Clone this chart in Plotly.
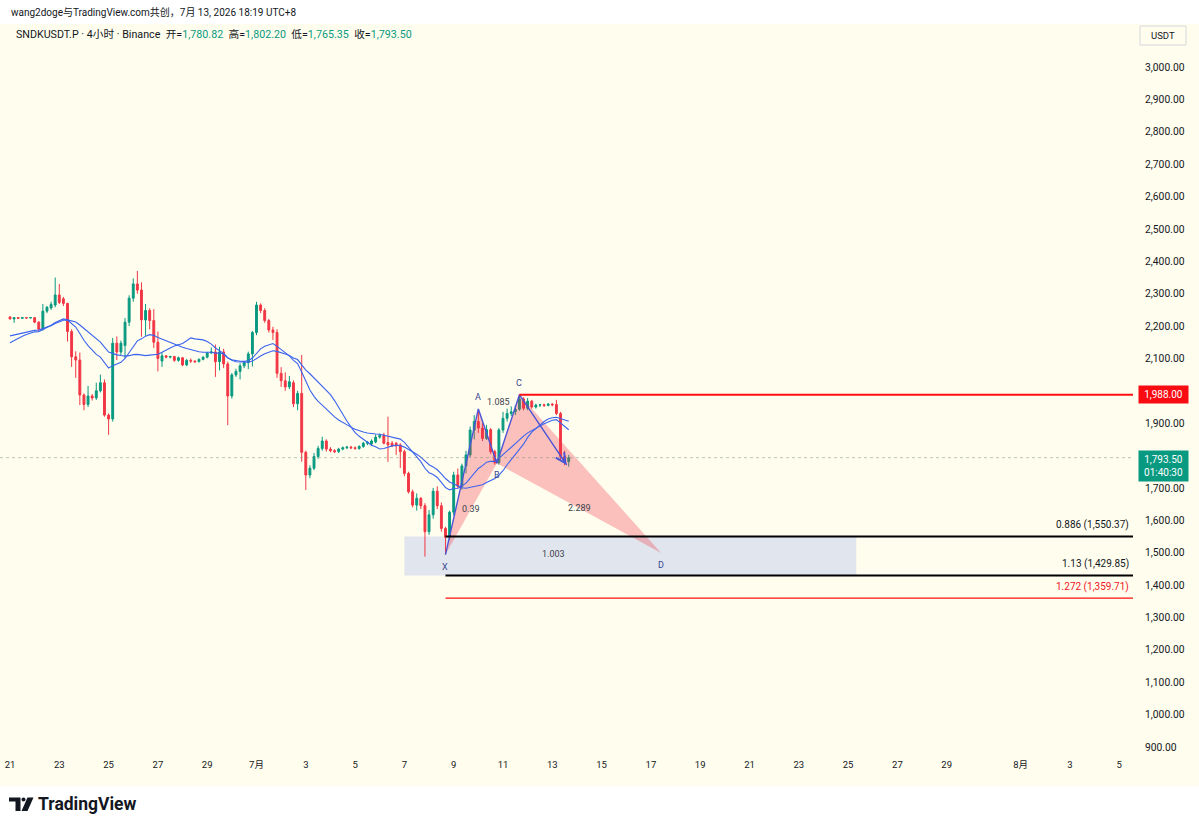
import pandas as pd
import plotly.graph_objects as go

# ---------------- data ----------------
first_bar = "2026-06-21 00:00"   # 4h bars
opens = [2228, 2222, 2226, 2224, 2226, 2225, 2226, 2212, 2190, 2246,
         2256, 2265, 2296, 2284, 2270, 2183, 2105, 2095, 1987, 1958,
         1984, 1978, 2000, 2025, 1925, 1913, 2147, 2120, 2140, 2212,
         2286, 2330, 2311, 2219, 2248, 2217, 2150, 2092, 2108, 2104,
         2106, 2094, 2102, 2080, 2094, 2092, 2090, 2097, 2104, 2117,
         2120, 2090, 2120, 2083, 1984, 2049, 2060, 2077, 2087, 2114,
         2180, 2265, 2248, 2217, 2188, 2180, 2054, 2031, 2012, 2025,
         1960, 1992, 1810, 1740, 1761, 1797, 1822, 1845, 1820, 1815,
         1812, 1820, 1824, 1826, 1824, 1822, 1828, 1838, 1836, 1842,
         1857, 1863, 1840, 1838, 1838, 1833, 1812, 1745, 1688, 1647,
         1668, 1645, 1565, 1617, 1690, 1645, 1575, 1548, 1625, 1740,
         1705, 1768, 1802, 1879, 1905, 1885, 1853, 1880, 1812, 1778,
         1879, 1915, 1930, 1935, 1943, 1975, 1946, 1968, 1950, 1956,
         1957, 1955, 1959, 1958, 1930, 1797, 1780.82]
highs = [2230, 2228, 2228, 2228, 2227, 2228, 2228, 2215, 2268, 2262,
         2275, 2350, 2330, 2290, 2272, 2190, 2122, 2118, 1992, 2015,
         1990, 2025, 2050, 2035, 1930, 2163, 2168, 2155, 2225, 2295,
         2347, 2370, 2335, 2268, 2255, 2252, 2183, 2118, 2110, 2108,
         2108, 2106, 2104, 2098, 2100, 2094, 2100, 2106, 2120, 2134,
         2143, 2136, 2130, 2090, 2055, 2068, 2085, 2092, 2121, 2185,
         2275, 2270, 2255, 2222, 2198, 2190, 2073, 2057, 2046, 2032,
         2000, 2111, 1815, 1770, 1808, 1830, 1858, 1850, 1826, 1820,
         1824, 1828, 1830, 1830, 1828, 1832, 1842, 1845, 1850, 1865,
         1868, 1870, 1920, 1845, 1842, 1838, 1818, 1750, 1695, 1683,
         1672, 1653, 1632, 1700, 1705, 1655, 1580, 1630, 1750, 1760,
         1775, 1815, 1890, 1925, 1944, 1900, 1895, 1885, 1818, 1885,
         1935, 1945, 1952, 1955, 1988, 1980, 1978, 1972, 1960, 1960,
         1960, 1962, 1962, 1972, 1935, 1815, 1802.20]
lows = [2220, 2210, 2222, 2223, 2223, 2224, 2209, 2185, 2186, 2240,
        2250, 2258, 2268, 2262, 2152, 2074, 2040, 1956, 1940, 1950,
        1970, 1972, 1995, 1920, 1864, 1905, 2095, 2110, 2100, 2200,
        2275, 2300, 2167, 2170, 2190, 2132, 2060, 2074, 2100, 2100,
        2090, 2090, 2076, 2076, 2086, 2086, 2088, 2094, 2100, 2114,
        2043, 2063, 2070, 1894, 1976, 2043, 2035, 2070, 2067, 2075,
        2172, 2240, 2210, 2180, 2157, 2040, 2012, 2000, 2005, 1950,
        1940, 1781, 1694, 1730, 1755, 1790, 1815, 1812, 1810, 1808,
        1808, 1816, 1820, 1820, 1818, 1818, 1824, 1832, 1830, 1838,
        1852, 1835, 1781, 1826, 1802, 1762, 1736, 1683, 1640, 1630,
        1635, 1488, 1555, 1605, 1635, 1565, 1494, 1540, 1615, 1698,
        1695, 1745, 1795, 1850, 1870, 1845, 1848, 1805, 1772, 1772,
        1870, 1905, 1922, 1925, 1938, 1940, 1940, 1945, 1945, 1950,
        1950, 1952, 1952, 1925, 1786, 1770, 1765.35]
closes = [2222, 2226, 2224, 2226, 2225, 2226, 2212, 2190, 2246, 2258,
          2267, 2296, 2273, 2270, 2183, 2105, 2095, 1987, 1958, 1984,
          1978, 2000, 2025, 1925, 1913, 2147, 2120, 2147, 2212, 2286,
          2330, 2311, 2219, 2248, 2217, 2150, 2100, 2108, 2104, 2106,
          2094, 2102, 2080, 2094, 2092, 2090, 2097, 2104, 2117, 2120,
          2090, 2120, 2083, 1984, 2049, 2060, 2077, 2087, 2114, 2180,
          2265, 2248, 2217, 2188, 2180, 2054, 2031, 2012, 2028, 1960,
          1992, 1810, 1740, 1761, 1797, 1822, 1845, 1820, 1815, 1812,
          1820, 1824, 1826, 1824, 1822, 1828, 1838, 1841, 1845, 1857,
          1862, 1838, 1833, 1830, 1830, 1812, 1745, 1688, 1647, 1668,
          1645, 1565, 1617, 1690, 1645, 1575, 1548, 1625, 1740, 1705,
          1768, 1802, 1879, 1905, 1885, 1853, 1880, 1812, 1778, 1879,
          1915, 1930, 1935, 1943, 1975, 1946, 1968, 1950, 1956, 1957,
          1955, 1959, 1957, 1930, 1797, 1780.82, 1793.50]

ma_period = 20
ema_start = 2141      # EMA value at left edge (read)
sma_start = 2167      # SMA value at left edge (read)

pat_labels = ["X", "A", "B", "C", "D"]
pat_times = ["2026-07-08 16:00", "2026-07-10 00:00", "2026-07-10 18:00",
             "2026-07-11 16:00", "2026-07-17 10:00"]
pat_prices = [1494.1, 1944, 1776, 1988, 1499]
ratio_labels = ["0.39", "1.085", "2.289", "1.003"]
ratio_pairs = [(0, 2), (1, 3), (2, 4), (0, 4)]
arrow_end_time = "2026-07-13 14:00"
arrow_end_price = 1771

resistance = 1988.00
fib_ratios = ["0.886", "1.13", "1.272"]
fib_prices = [1550.37, 1429.85, 1359.71]
zone_times = ["2026-07-07 00:00", "2026-07-25 08:00"]

last_price = 1793.50
countdown = "01:40:30"

# price-scale ticks (1,800 and 2,000 are hidden behind the price boxes)
y_ticks = [900, 1000, 1100, 1200, 1300, 1400, 1500, 1600, 1700, 1900,
           2100, 2200, 2300, 2400, 2500, 2600, 2700, 2800, 2900, 3000]
x_tick_dates = ["2026-06-21", "2026-06-23", "2026-06-25", "2026-06-27", "2026-06-29",
                "2026-07-01", "2026-07-03", "2026-07-05", "2026-07-07", "2026-07-09",
                "2026-07-11", "2026-07-13", "2026-07-15", "2026-07-17", "2026-07-19",
                "2026-07-21", "2026-07-23", "2026-07-25", "2026-07-27", "2026-07-29",
                "2026-08-01", "2026-08-03", "2026-08-05"]
x_tick_text = ["21", "23", "25", "27", "29", "7月", "3", "5", "7", "9", "11", "13",
               "15", "17", "19", "21", "23", "25", "27", "29", "8月", "3", "5"]

# ---------------- styling ----------------
W, H = 1199, 829
PR, PT, PB = 1133, 24, 757          # plot area pixel bounds (left = 0)
BG = "#fffdee"
UP, DN = "#089981", "#f23645"
TXT = "#131722"
FONT = "Roboto, 'Noto Sans CJK SC', sans-serif"


def pxx(x):
    return x / PR


def pxy(y):
    return (PB - y) / (PB - PT)


times = pd.date_range(first_bar, periods=len(closes), freq="4h")

# moving averages
alpha = 2 / (ma_period + 1)
ema, e = [], ema_start
for c in closes:
    e = e + alpha * (c - e)
    ema.append(e)
sma = pd.Series([sma_start] * (ma_period - 1) + closes).rolling(ma_period).mean().dropna().tolist()

fig = go.Figure()

# pink harmonic triangles
for tri in [(0, 1, 2), (2, 3, 4)]:
    fig.add_trace(go.Scatter(
        x=[pat_times[i] for i in tri] + [pat_times[tri[0]]],
        y=[pat_prices[i] for i in tri] + [pat_prices[tri[0]]],
        mode="lines", line=dict(width=0), fill="toself",
        fillcolor="rgba(242,54,69,0.30)", hoverinfo="skip", showlegend=False))

fig.add_trace(go.Candlestick(
    x=times, open=opens, high=highs, low=lows, close=closes,
    increasing=dict(line=dict(color=UP, width=1), fillcolor=UP),
    decreasing=dict(line=dict(color=DN, width=1), fillcolor=DN),
    whiskerwidth=0, hoverinfo="none", showlegend=False))

fig.add_trace(go.Scatter(x=times, y=ema, mode="lines",
                         line=dict(color="#3a63ee", width=1.1),
                         hoverinfo="skip", showlegend=False))
fig.add_trace(go.Scatter(x=times, y=sma, mode="lines",
                         line=dict(color="#3a63ee", width=1.1),
                         hoverinfo="skip", showlegend=False))

# blue pattern path X-A-B-C -> arrow
fig.add_trace(go.Scatter(x=pat_times[:4] + [arrow_end_time],
                         y=pat_prices[:4] + [arrow_end_price],
                         mode="lines", line=dict(color="#4a55d6", width=1.4),
                         hoverinfo="skip", showlegend=False))

shapes = []
# blue-grey zone
shapes.append(dict(type="rect", xref="x", yref="y", x0=zone_times[0], x1=zone_times[1],
                   y0=fib_prices[1], y1=fib_prices[0], line=dict(width=0),
                   fillcolor="rgba(90,120,240,0.18)", layer="below"))
# current price dotted line
shapes.append(dict(type="line", xref="paper", yref="y", x0=0, x1=1,
                   y0=last_price, y1=last_price,
                   line=dict(color="rgba(120,140,130,0.5)", width=1, dash="dot")))
# resistance line
shapes.append(dict(type="line", xref="x", yref="y", x0=pat_times[3], x1="2026-08-20",
                   y0=resistance, y1=resistance, line=dict(color="#ff1010", width=2)))
# fib lines
fib_colors = ["#000000", "#000000", "#ff1010"]
fib_widths = [2, 2, 1.4]
for p, col, wd in zip(fib_prices, fib_colors, fib_widths):
    shapes.append(dict(type="line", xref="x", yref="y", x0=pat_times[0], x1="2026-08-20",
                       y0=p, y1=p, line=dict(color=col, width=wd)))

# white strips top & bottom
shapes.append(dict(type="rect", xref="paper", yref="paper", x0=pxx(-5), x1=pxx(1210),
                   y0=pxy(24), y1=pxy(-5), line=dict(width=0), fillcolor="white", layer="above"))
shapes.append(dict(type="rect", xref="paper", yref="paper", x0=pxx(-5), x1=pxx(1210),
                   y0=pxy(840), y1=pxy(786), line=dict(width=0), fillcolor="white", layer="above"))
# USDT unit box outline
shapes.append(dict(type="rect", xref="paper", yref="paper", x0=pxx(1140), x1=pxx(1186),
                   y0=pxy(45), y1=pxy(26), line=dict(color="#d6d8de", width=1),
                   fillcolor="rgba(0,0,0,0)", layer="above"))
# TradingView logo glyph
logo_col = "#131722"
shapes.append(dict(type="path", xref="paper", yref="paper", fillcolor=logo_col, line=dict(width=0),
                   layer="above",
                   path="M {} {} L {} {} L {} {} L {} {} L {} {} L {} {} Z".format(
                       pxx(9), pxy(797.5), pxx(20.5), pxy(797.5), pxx(20.5), pxy(811),
                       pxx(15.5), pxy(811), pxx(15.5), pxy(801.5), pxx(9), pxy(801.5))))
shapes.append(dict(type="circle", xref="paper", yref="paper", fillcolor=logo_col,
                   line=dict(width=0), layer="above",
                   x0=pxx(21.5), x1=pxx(25.5), y0=pxy(801.5), y1=pxy(797.5)))
shapes.append(dict(type="path", xref="paper", yref="paper", fillcolor=logo_col, line=dict(width=0),
                   layer="above",
                   path="M {} {} L {} {} L {} {} L {} {} Z".format(
                       pxx(27.5), pxy(797.5), pxx(33.5), pxy(797.5),
                       pxx(27.5), pxy(811), pxx(21.5), pxy(811))))

ann = []
# pattern point labels
for lab, t, p in zip(pat_labels, pat_times, pat_prices):
    up = lab in ("A", "C")
    ann.append(dict(x=t, y=p, xref="x", yref="y", text=lab, showarrow=False,
                    xanchor="center", yanchor="middle",
                    yshift=12 if up else -12, font=dict(size=9, color="#3a4590", family=FONT)))
for lab, (i, j) in zip(ratio_labels, ratio_pairs):
    tm = pd.Timestamp(pat_times[i]) + (pd.Timestamp(pat_times[j]) - pd.Timestamp(pat_times[i])) / 2
    ann.append(dict(x=tm, y=(pat_prices[i] + pat_prices[j]) / 2, xref="x", yref="y", text=lab,
                    xanchor="center", yanchor="middle",
                    showarrow=False, font=dict(size=9, color="#40434f", family=FONT)))
# arrow head at the end of the path
ann.append(dict(x=arrow_end_time, y=arrow_end_price, xref="x", yref="y", text="",
                showarrow=True, arrowhead=5, arrowsize=1.4, arrowwidth=1.4,
                arrowcolor="#4a55d6", ax=-6, ay=-9))
# fib texts
fib_text_col = ["#131722", "#131722", "#f0141e"]
for r, p, col in zip(fib_ratios, fib_prices, fib_text_col):
    ann.append(dict(x=pxx(1131), y=p, xref="paper", yref="y", xanchor="right", yanchor="bottom",
                    yshift=3, text="{} ({:,.2f})".format(r, p), showarrow=False,
                    font=dict(size=10, color=col, family=FONT)))
# price axis boxes
ann.append(dict(x=pxx(1138), y=resistance, xref="paper", yref="y", xanchor="left",
                yanchor="middle", text="{:,.2f}".format(resistance), showarrow=False,
                bgcolor="#f80c12", borderpad=3, width=43,
                font=dict(size=10, color="white", family=FONT)))
ann.append(dict(x=pxx(1138), y=last_price, xref="paper", yref="y", xanchor="left",
                yanchor="top", yshift=8,
                text="{:,.2f}<br>{}".format(last_price, countdown), showarrow=False,
                bgcolor=UP, borderpad=3, width=43,
                font=dict(size=10, color="white", family=FONT)))
# USDT unit label
ann.append(dict(x=pxx(1163), y=pxy(35.5), xref="paper", yref="paper", text="USDT",
                xanchor="center", yanchor="middle", showarrow=False,
                font=dict(size=9.5, color=TXT, family=FONT)))
# header texts
ann.append(dict(x=pxx(9), y=pxy(12), xref="paper", yref="paper", xanchor="left",
                yanchor="middle", showarrow=False,
                text="wang2doge与TradingView.com共创，7月 13, 2026 18:19 UTC+8",
                font=dict(size=10, color=TXT, family=FONT)))
g = "<span style='color:%s'>" % UP
legend_txt = ("SNDKUSDT.P · 4小时 · Binance\u00a0\u00a0开=" + g + "{:,.2f}</span>\u00a0\u00a0高=" + g +
              "{:,.2f}</span>\u00a0\u00a0低=" + g + "{:,.2f}</span>\u00a0\u00a0收=" + g +
              "{:,.2f}</span>").format(opens[-1], highs[-1], lows[-1], closes[-1])
ann.append(dict(x=pxx(14), y=pxy(34), xref="paper", yref="paper", xanchor="left",
                yanchor="middle", showarrow=False, text=legend_txt,
                font=dict(size=10.7, color=TXT, family=FONT)))
ann.append(dict(x=pxx(36), y=pxy(804), xref="paper", yref="paper", xanchor="left",
                yanchor="middle", showarrow=False, text="<b>TradingView</b>",
                font=dict(size=17.5, color=TXT, family=FONT)))

fig.update_layout(
    width=W, height=H,
    margin=dict(l=0, r=W - PR, t=PT, b=H - PB),
    paper_bgcolor=BG, plot_bgcolor=BG,
    shapes=shapes, annotations=ann,
    showlegend=False, hovermode=False, boxgap=0.35,
    xaxis=dict(type="date", range=["2026-06-20 14:16", "2026-08-05 13:23"],
               rangeslider=dict(visible=False), showgrid=False, zeroline=False,
               showline=False, ticks="", tickvals=x_tick_dates, ticktext=x_tick_text,
               tickfont=dict(size=9.5, color=TXT, family=FONT), fixedrange=True),
    yaxis=dict(side="right", range=[869.1, 3132.8], showgrid=False, zeroline=False,
               showline=False, ticks="", tickvals=y_ticks, tickformat=",.2f",
               ticklabelstandoff=11,
               tickfont=dict(size=10.3, color=TXT, family=FONT), fixedrange=True),
)

fig.write_html("out.html", config={"displayModeBar": False})
with open("out.html", encoding="utf-8") as f:
    html = f.read()
html = html.replace("<body>", "<body style=\"margin:0;overflow:hidden\">", 1)
with open("out.html", "w", encoding="utf-8") as f:
    f.write(html)
